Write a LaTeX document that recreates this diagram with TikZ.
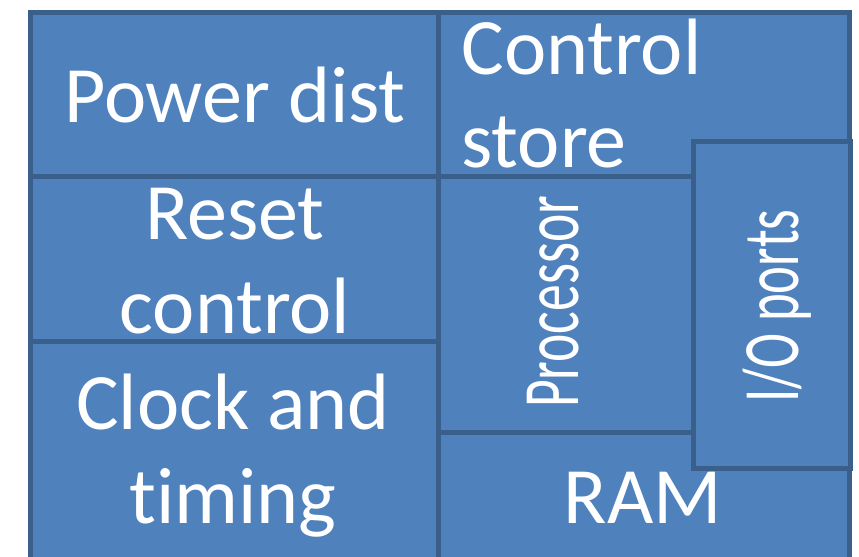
\documentclass[tikz,border=0pt]{standalone}
\usepackage{fontspec}
\setmainfont{Carlito}[Ligatures=NoCommon]
\usetikzlibrary{positioning}
\definecolor{blockfill}{HTML}{4F81BD}
\definecolor{blockline}{HTML}{3A5F8B}
\tikzset{
  block/.style={draw=blockline, fill=blockfill, line width=2.5pt, line join=miter},
  blocktext/.style={text=white, font=\fontsize{40}{47}\selectfont, align=center, inner sep=0pt},
}

\begin{document}
\begin{tikzpicture}[x=0.5pt,y=-0.5pt]
  \useasboundingbox (0,0) rectangle (859,557);
  % left column
  \draw[block] (30,12) rectangle (438,176);
  \draw[block] (30,176) rectangle (438,341);
  \draw[block] (30,341) rectangle (438,575);
  % right column
  \draw[block] (438,12) rectangle (849,176);
  \draw[block] (438,176) rectangle (693,432);
  \draw[block] (438,432) rectangle (849,575);
  \draw[block] (693,141) rectangle (850,468);

  \node[blocktext, anchor=base] (power) at (235,122) {Power dist};
  \node[blocktext, anchor=base west, align=left] (cstore) at (461,168) {Control\\store};
  \node[blocktext, anchor=base] (reset) at (235,333) {Reset\\control};
  \node[blocktext, anchor=base] (clock) at (233,523) {Clock and\\timing};
  \node[blocktext, anchor=base, rotate=90] (proc) at (578,302) {\scalebox{0.67}[1]{Processor}};
  \node[blocktext, anchor=base, rotate=90] (io) at (798,306) {\scalebox{0.66}[1]{I/O ports}};
  \node[blocktext, anchor=base] (ram) at (643,523) {RAM};
\end{tikzpicture}
\end{document}
